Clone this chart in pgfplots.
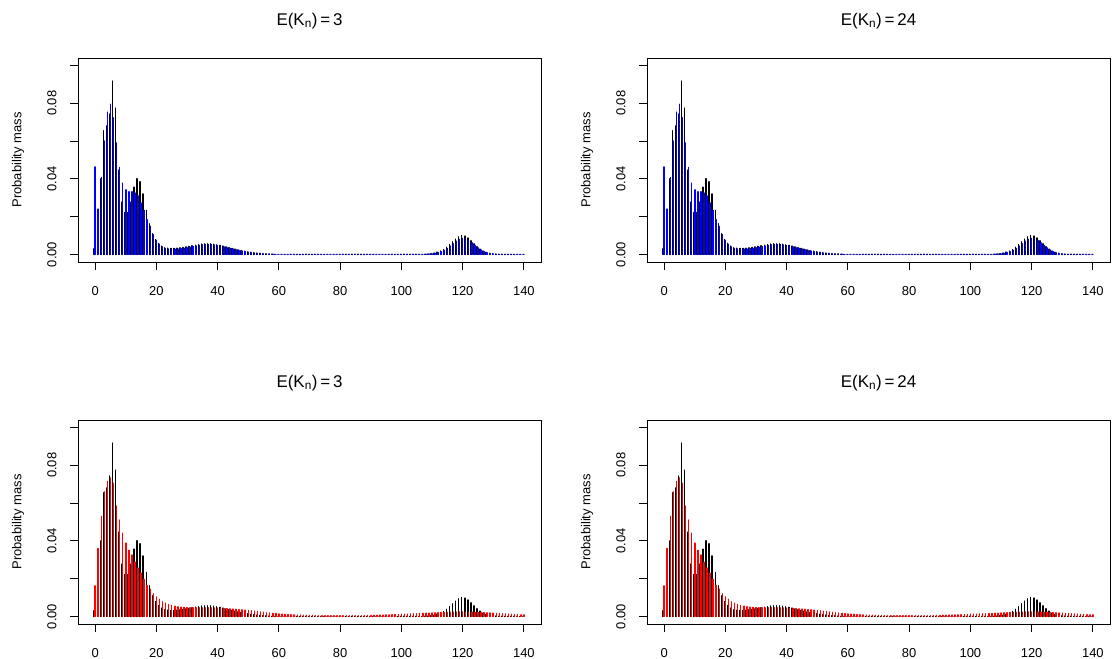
\documentclass[border=0pt]{standalone}
\usepackage{pgfplots}
\pgfplotsset{compat=1.18}
\usepackage{pgfplotstable}
\usepackage{fontspec}
\setmainfont{Liberation Sans}
\setsansfont{Liberation Sans}

\pgfplotstableread{
k blk blu red
0 0.0030 0.0463 0.0162
1 0.0132 0.0240 0.0360
2 0.0400 0.0407 0.0530
3 0.0655 0.0600 0.0660
4 0.0680 0.0753 0.0715
5 0.0743 0.0795 0.0733
6 0.0918 0.0723 0.0705
7 0.0774 0.0590 0.0585
8 0.0446 0.0460 0.0510
9 0.0277 0.0377 0.0440
10 0.0222 0.0342 0.0388
11 0.0222 0.0332 0.0350
12 0.0277 0.0332 0.0325
13 0.0356 0.0325 0.0287
14 0.0401 0.0310 0.0256
15 0.0385 0.0272 0.0229
16 0.0320 0.0233 0.0196
17 0.0233 0.0184 0.0165
18 0.0163 0.0149 0.0144
19 0.0110 0.0105 0.0120
20 0.0079 0.0075 0.0103
21 0.0058 0.0054 0.0091
22 0.0044 0.0040 0.0078
23 0.0036 0.0032 0.0070
24 0.0033 0.0029 0.0063
25 0.0032 0.0028 0.0058
26 0.0032 0.0028 0.0054
27 0.0033 0.0029 0.0051
28 0.0035 0.0031 0.0049
29 0.0037 0.0033 0.0048
30 0.0040 0.0036 0.0047
31 0.0043 0.0039 0.0046
32 0.0046 0.0042 0.0046
33 0.0049 0.0045 0.0046
34 0.0052 0.0048 0.0046
35 0.0055 0.0051 0.0046
36 0.0057 0.0052 0.0046
37 0.0057 0.0053 0.0046
38 0.0056 0.0052 0.0045
39 0.0054 0.0050 0.0045
40 0.0051 0.0047 0.0044
41 0.0048 0.0044 0.0043
42 0.0044 0.0040 0.0042
43 0.0040 0.0036 0.0041
44 0.0036 0.0032 0.0040
45 0.0032 0.0029 0.0039
46 0.0028 0.0025 0.0038
47 0.0024 0.0021 0.0036
48 0.0020 0.0018 0.0035
49 0.0017 0.0015 0.0033
50 0.0014 0.0012 0.0032
51 0.0011 0.0010 0.0030
52 0.0009 0.0008 0.0028
53 0.0007 0.0006 0.0026
54 0.0005 0.0005 0.0024
55 0.0004 0.0004 0.0022
56 0.0003 0.0003 0.0020
57 0.0002 0.0002 0.0018
58 0.0001 0.0001 0.0016
59 0 0 0.0015
60 0 0 0.0013
61 0 0 0.0012
62 0 0 0.0011
63 0 0 0.0010
64 0 0 0.0009
65 0 0 0.0008
66 0 0 0.0007
67 0 0 0.0007
68 0 0 0.0006
69 0 0 0.0006
70 0 0 0.0005
71 0 0 0.0005
72 0 0 0.0005
73 0 0 0.0004
74 0 0 0.0004
75 0 0 0.0004
76 0 0 0.0004
77 0 0 0.0004
78 0 0 0.0004
79 0 0 0.0004
80 0 0 0.0004
81 0 0 0.0004
82 0 0 0.0004
83 0 0 0.0004
84 0 0 0.0004
85 0 0 0.0004
86 0 0 0.0004
87 0 0 0.0004
88 0 0 0.0005
89 0 0 0.0005
90 0 0 0.0005
91 0 0 0.0006
92 0 0 0.0006
93 0 0 0.0007
94 0 0 0.0007
95 0 0 0.0008
96 0 0 0.0008
97 0 0 0.0009
98 0 0 0.0010
99 0 0 0.0010
100 0 0 0.0011
101 0 0 0.0012
102 0 0 0.0012
103 0 0 0.0013
104 0 0 0.0014
105 0 0 0.0014
106 0 0 0.0015
107 0 0 0.0016
108 0.0001 0.0001 0.0017
109 0.0002 0.0002 0.0017
110 0.0004 0.0003 0.0018
111 0.0007 0.0006 0.0019
112 0.0012 0.0010 0.0020
113 0.0018 0.0015 0.0021
114 0.0026 0.0022 0.0021
115 0.0038 0.0032 0.0022
116 0.0052 0.0044 0.0022
117 0.0067 0.0057 0.0023
118 0.0081 0.0070 0.0023
119 0.0093 0.0080 0.0024
120 0.0100 0.0085 0.0024
121 0.0097 0.0082 0.0024
122 0.0087 0.0074 0.0023
123 0.0072 0.0062 0.0023
124 0.0056 0.0048 0.0022
125 0.0041 0.0035 0.0022
126 0.0028 0.0024 0.0021
127 0.0018 0.0015 0.0020
128 0.0011 0.0009 0.0019
129 0.0006 0.0005 0.0018
130 0.0003 0.0003 0.0017
131 0.0002 0.0001 0.0016
132 0.0001 0 0.0015
133 0 0 0.0014
134 0 0 0.0013
135 0 0 0.0012
136 0 0 0.0011
137 0 0 0.0010
138 0 0 0.0009
139 0 0 0.0008
140 0 0 0.0008
}\data

\pgfplotsset{
  panel/.style={
    scale only axis, width=463bp, height=204bp,
    anchor=south west,
    xmin=-5.6, xmax=145.6, ymin=-0.004, ymax=0.104,
    xtick={0,20,...,140},
    ytick={0,0.04,0.08}, yticklabels={0.00,0.04,0.08},
    minor ytick={0.02,0.06,0.10},
    tick align=outside, tick pos=left,
    major tick length=8bp, minor tick length=8bp,
    every tick/.style={black, line width=0.8bp},
    axis line style={line width=0.8bp},
    /pgf/number format/assume math mode=true,
    tick label style={font=\fontsize{13}{15}\selectfont},
    xticklabel style={anchor=north, inner sep=0pt},
    xticklabel shift=16bp,
    yticklabel style={rotate=90, anchor=south},
    yticklabel shift=10bp,
    ylabel={Probability mass},
    ylabel style={at={(axis description cs:-0.1296,0.5)}, anchor=center, rotate=0, font=\fontsize{13}{15}\selectfont},
    title style={at={(axis description cs:0.5,1.131)}, anchor=base, font=\fontsize{17}{20}\selectfont},
    clip=false,
  },
  spk/.style={ycomb, no markers, line width=1.5bp, line cap=round},
}

\begin{document}
\begin{tikzpicture}[x=1bp,y=1bp]
\useasboundingbox (0,0) rectangle (1112,659);
% top left
\begin{axis}[panel, at={(78bp,397bp)}, title={E(K\textsubscript{n})\,=\,3}]
\addplot[spk, black] table[x expr=\thisrow{k}-0.3, y=blk] {\data};
\addplot[spk, blue] table[x=k, y=blu] {\data};
\end{axis}
% top right
\begin{axis}[panel, at={(647bp,397bp)}, title={E(K\textsubscript{n})\,=\,24}]
\addplot[spk, black] table[x expr=\thisrow{k}-0.3, y=blk] {\data};
\addplot[spk, blue] table[x=k, y=blu] {\data};
\end{axis}
% bottom left
\begin{axis}[panel, at={(78bp,35bp)}, title={E(K\textsubscript{n})\,=\,3}]
\addplot[spk, black] table[x expr=\thisrow{k}-0.3, y=blk] {\data};
\addplot[spk, red] table[x=k, y=red] {\data};
\end{axis}
% bottom right
\begin{axis}[panel, at={(647bp,35bp)}, title={E(K\textsubscript{n})\,=\,24}]
\addplot[spk, black] table[x expr=\thisrow{k}-0.3, y=blk] {\data};
\addplot[spk, red] table[x=k, y=red] {\data};
\end{axis}
\end{tikzpicture}
\end{document}
